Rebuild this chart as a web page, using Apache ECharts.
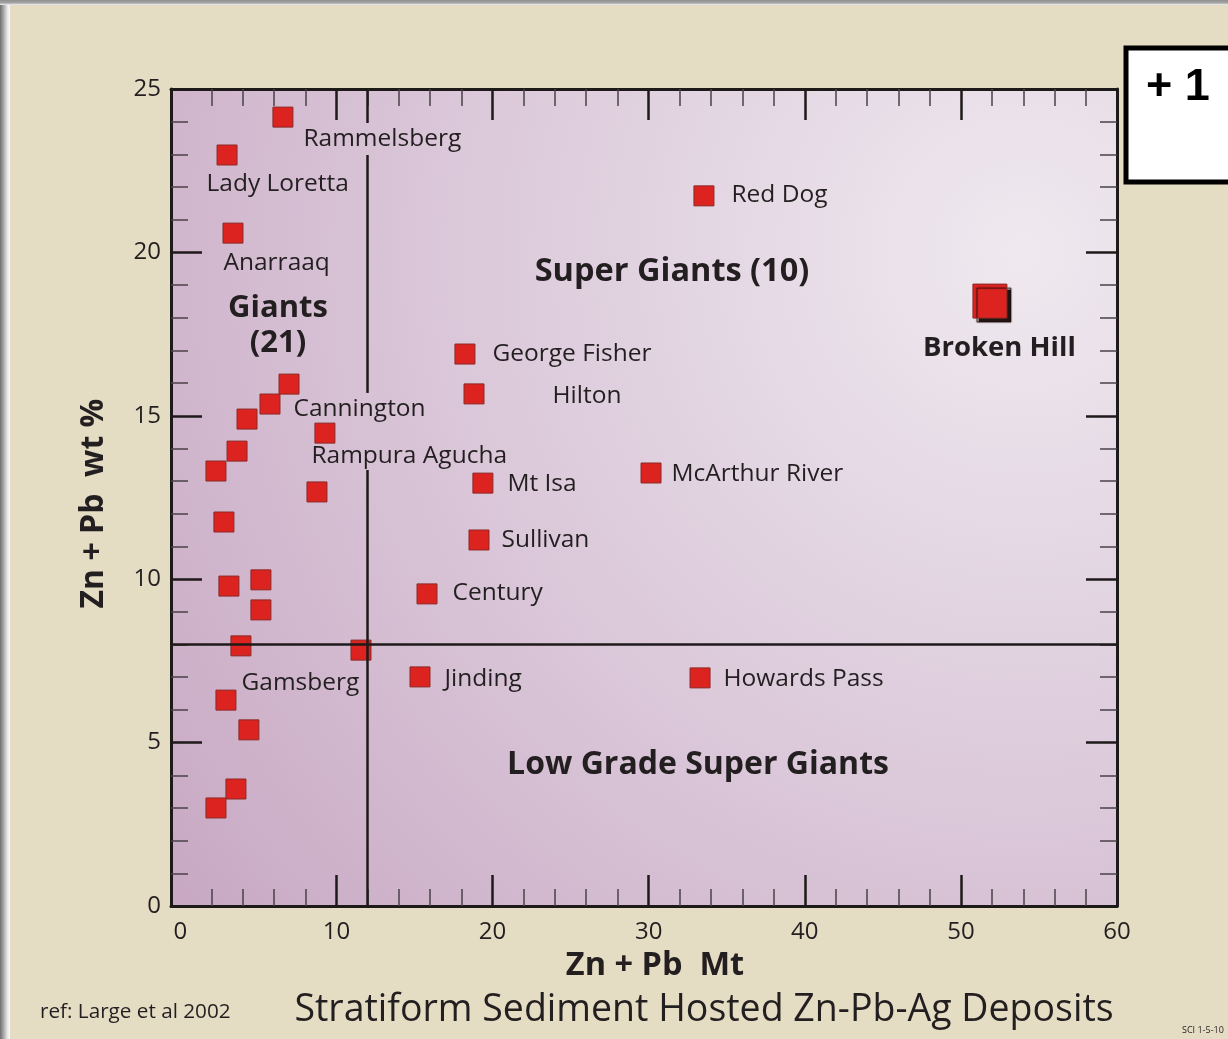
<!DOCTYPE html>
<html>
<head>
  <meta charset="utf-8">
  <title>Stratiform Sediment Hosted Zn-Pb-Ag Deposits</title>
  <script src="https://cdn.jsdelivr.net/npm/echarts@6/dist/echarts.min.js"></script>
  <style type="text/css">
    html, body {
      margin: 0;
      padding: 0;
      background: #e5dcc4;
    }

    #chart {
      width: 1228px;
      height: 1039px;
    }
  </style>
</head>

<body>
<div id="chart"></div>
<script>
  // 矿床名（空串 = 图上没标名字）
  var deposits = [
    'Rammelsberg', 'Lady Loretta', 'Anarraaq', 'Cannington', '', '', 'Rampura Agucha',
    '', '', '', '', '', '', '', '', '', 'Gamsberg', '', '', '',
    'George Fisher', 'Hilton', 'Mt Isa', 'Sullivan', 'Century', 'McArthur River',
    'Red Dog', 'Jinding', 'Howards Pass', 'Broken Hill'
  ];
  // Zn + Pb 金属量 (Mt)
  var metalMt = [
    6.57, 2.99, 3.37, 6.96, 5.74, 4.27, 9.26,
    3.63, 2.28, 8.75, 2.79, 3.11, 5.16, 5.16, 3.88, 11.57, 2.92, 4.39, 3.56, 2.28,
    18.23, 18.81, 19.38, 19.13, 15.80, 30.15,
    33.54, 15.35, 33.29, 51.86
  ];
  // Zn + Pb 品位 (wt %)
  var gradePct = [
    24.14, 22.98, 20.59, 15.97, 15.36, 14.90, 14.47,
    13.92, 13.31, 12.67, 11.75, 9.79, 9.98, 9.06, 7.96, 7.83, 6.30, 5.39, 3.58, 3.00,
    16.89, 15.67, 12.94, 11.20, 9.55, 13.25,
    21.73, 7.01, 6.98, 18.51
  ];
  // 分界线：Mt = 12 竖线（标签处断开），wt% = 8 横线
  var sizeCut = 12;
  var gradeCut = 8;
  var sizeCutGaps = [[13.34, 15.70], [22.98, 23.96]];
  // 刻度
  var xLabelValues = [0, 10, 20, 30, 40, 50, 60];
  var xMajorTicks = [10, 20, 30, 40, 50];
  var xMinorTicks = [2, 4, 6, 8, 12, 14, 16, 18, 22, 24, 26, 28, 32, 34, 36, 38, 42, 44, 46, 48, 52, 54, 56, 58];

  // 标签位置（相对方块左上角）
  var labelPos = {
    'Rammelsberg': [31, 32],
    'Lady Loretta': [-10, 40],
    'Anarraaq': [1, 40],
    'Cannington': [15, 35],
    'Rampura Agucha': [-3, 33],
    'Gamsberg': [26, -7],
    'George Fisher': [38, 10],
    'Hilton': [89, 13],
    'Mt Isa': [35, 11],
    'Sullivan': [33, 11],
    'Century': [36, 10],
    'McArthur River': [31, 12],
    'Red Dog': [38, 10],
    'Jinding': [35, 13],
    'Howards Pass': [34, 12]
  };

  var FONT = '"Open Sans", "Noto Sans", sans-serif';
  var INK = '#231f20';
  var plotBg = {
    type: 'radial', x: 0.9, y: 0.2, r: 1.31,
    colorStops: [
      {offset: 0, color: '#efe9ef'},
      {offset: 0.5, color: '#dccadb'},
      {offset: 1, color: '#c8a8c3'}
    ]
  };

  function buildPoints() {
    var pts = [];
    for (var i = 0; i < deposits.length; i++) {
      var name = deposits[i];
      var item = {name: name, value: [metalMt[i], gradePct[i]]};
      if (name === 'Broken Hill') {
        item.symbolSize = 34;
        item.itemStyle = {shadowColor: 'rgba(25,10,10,0.95)', shadowOffsetX: 4, shadowOffsetY: 4, shadowBlur: 1};
        item.label = {
          show: true, position: [27, 65], align: 'center', verticalAlign: 'middle',
          fontWeight: 'bold', fontSize: 27.5
        };
      } else if (labelPos[name]) {
        item.label = {show: true, position: labelPos[name], align: 'left', verticalAlign: 'middle'};
      }
      pts.push(item);
    }
    return pts;
  }

  // 竖线分段
  function buildCutLines() {
    var lines = [];
    var from = 0;
    for (var i = 0; i < sizeCutGaps.length; i++) {
      lines.push([{coord: [sizeCut, from]}, {coord: [sizeCut, sizeCutGaps[i][0]]}]);
      from = sizeCutGaps[i][1];
    }
    lines.push([{coord: [sizeCut, from]}, {coord: [sizeCut, 25]}]);
    lines.push({yAxis: gradeCut});
    return lines;
  }

  function xAxisDef(pos, ticks, len, lineShow, labelShow) {
    return {
      type: 'value', min: -0.6, max: 60, position: pos, gridIndex: 0,
      name: (pos === 'bottom' && labelShow) ? 'Zn + Pb  Mt' : '',
      nameLocation: 'middle', nameGap: 40,
      nameTextStyle: {fontFamily: FONT, fontWeight: 'bold', fontSize: 32.5, color: INK, padding: [0, 0, 0, 22]},
      axisLine: {show: lineShow, onZero: false, lineStyle: {color: '#1e1a1a', width: 3}},
      axisTick: {
        show: true, inside: true, length: len, customValues: ticks,
        lineStyle: {color: len > 20 ? '#1e1a1a' : '#4a4248', width: len > 20 ? 2.5 : 1.5}
      },
      axisLabel: {
        show: labelShow, customValues: xLabelValues, margin: 14,
        fontFamily: FONT, fontSize: 24, color: INK
      },
      splitLine: {show: false}
    };
  }

  function yAxisDef(pos) {
    var main = pos === 'left';
    return {
      type: 'value', min: 0, max: 25, interval: 5, position: pos,
      name: main ? 'Zn + Pb  wt %' : '', nameLocation: 'middle', nameGap: 61, nameRotate: 90,
      nameTextStyle: {fontFamily: FONT, fontWeight: 'bold', fontSize: 32, color: INK, padding: [0, 12, 0, 0]},
      axisLine: {show: true, onZero: false, lineStyle: {color: '#1e1a1a', width: 3}},
      axisTick: {show: true, inside: true, length: 31, lineStyle: {color: '#1e1a1a', width: 2.5}},
      minorTick: {show: true, splitNumber: 5, length: 17, lineStyle: {color: '#4a4248', width: 1.5}},
      axisLabel: {show: main, margin: 10, fontFamily: FONT, fontSize: 24, color: INK},
      splitLine: {show: false}
    };
  }

  var chart = echarts.init(document.getElementById('chart'));
  var option = {
    backgroundColor: '#e5dcc4',
    animation: false,
    grid: {
      left: 171, right: 111, top: 89, bottom: 133,
      show: true, borderWidth: 0, backgroundColor: plotBg
    },
    xAxis: [
      xAxisDef('bottom', xMajorTicks, 31, true, true),
      xAxisDef('bottom', xMinorTicks, 17, false, false),
      xAxisDef('top', xMajorTicks, 31, true, false),
      xAxisDef('top', xMinorTicks, 17, false, false)
    ],
    yAxis: [yAxisDef('left'), yAxisDef('right')],
    series: [
      {
        // 分界线
        name: 'boundary', type: 'scatter', xAxisIndex: 0, yAxisIndex: 0, z: 1,
        data: [],
        markLine: {
          silent: true, symbol: 'none', label: {show: false},
          lineStyle: {color: '#1e1a1a', width: 2.5, type: 'solid'},
          data: buildCutLines()
        }
      },
      {
        name: 'deposits', type: 'scatter', xAxisIndex: 0, yAxisIndex: 0, z: 3,
        symbol: 'rect', symbolSize: 20,
        itemStyle: {color: '#dc231f', borderColor: '#8c2a27', borderWidth: 1, opacity: 1},
        label: {show: false, formatter: '{b}', fontFamily: FONT, fontSize: 24.5, color: INK},
        data: buildPoints()
      }
    ],
    graphic: [
      // 左侧灰边
      {
        type: 'rect', left: 0, top: 0, z: 50, silent: true,
        shape: {width: 10, height: 1039},
        style: {
          fill: {
            type: 'linear', x: 0, y: 0, x2: 1, y2: 0,
            colorStops: [{offset: 0, color: '#6e6e6e'}, {offset: 0.75, color: '#e8e8e8'}, {offset: 1, color: '#fbfbfb'}]
          }
        }
      },
      // 顶部灰边
      {
        type: 'rect', left: 0, top: 0, z: 50, silent: true,
        shape: {width: 1228, height: 5},
        style: {
          fill: {
            type: 'linear', x: 0, y: 0, x2: 0, y2: 1,
            colorStops: [{offset: 0, color: '#8f8f8f'}, {offset: 0.6, color: '#a5a5a5'}, {offset: 1, color: '#f4f4f4'}]
          }
        }
      },
      // +1 框
      {
        type: 'rect', z: 40, silent: true,
        shape: {x: 1126, y: 48, width: 130, height: 134},
        style: {fill: '#ffffff', stroke: '#000000', lineWidth: 5}
      },
      {
        type: 'text', z: 41, silent: true, x: 1146, y: 88,
        style: {
          text: '+ 1', fill: '#000000', font: 'bold 45px "Liberation Sans", Arial, sans-serif',
          verticalAlign: 'middle'
        }
      },
      // 区域名称
      {
        type: 'text', z: 20, silent: true, x: 278, y: 326,
        style: {
          text: 'Giants\n(21)', fill: INK, font: 'bold 31px ' + FONT, lineHeight: 35,
          align: 'center', verticalAlign: 'middle'
        }
      },
      {
        type: 'text', z: 20, silent: true, x: 672, y: 272,
        style: {text: 'Super Giants (10)', fill: INK, font: 'bold 32.5px ' + FONT, align: 'center', verticalAlign: 'middle'}
      },
      {
        type: 'text', z: 20, silent: true, x: 698, y: 765,
        style: {text: 'Low Grade Super Giants', fill: INK, font: 'bold 32px ' + FONT, align: 'center', verticalAlign: 'middle'}
      },
      // 标题和出处
      {
        type: 'text', z: 20, silent: true, x: 704, y: 1010,
        style: {
          text: 'Stratiform Sediment Hosted Zn-Pb-Ag Deposits', fill: INK, font: '37.5px ' + FONT,
          align: 'center', verticalAlign: 'middle'
        }
      },
      {
        type: 'text', z: 20, silent: true, x: 40, y: 1012,
        style: {text: 'ref: Large et al 2002', fill: INK, font: '20.7px ' + FONT, verticalAlign: 'middle'}
      },
      {
        type: 'text', z: 20, silent: true, x: 1182, y: 1030,
        style: {text: 'SCI 1-5-10', fill: INK, font: '9px ' + FONT, verticalAlign: 'middle'}
      }
    ]
  };
  chart.setOption(option);
</script>
</body>
</html>
